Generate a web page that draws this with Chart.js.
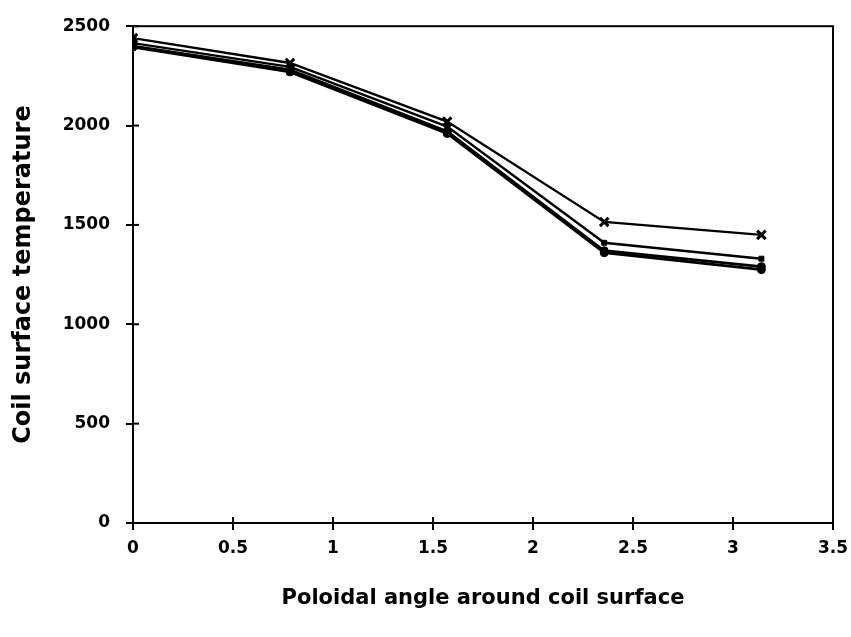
<!DOCTYPE html>
<html>
<head>
<meta charset="utf-8">
<script src="https://cdn.jsdelivr.net/npm/chart.js@4"></script>
<style>
html,body{margin:0;padding:0;background:#fff;}
#wrap{width:851px;height:637px;}
</style>
</head>
<body>
<div id="wrap"><canvas id="c" width="851" height="637"></canvas></div>
<script>
// Poloidal angles (radians)
const angles = [0, 0.785, 1.571, 2.356, 3.142];
// Coil surface temperature series
const seriesA = [2440, 2315, 2020, 1515, 1450];
const seriesB = [2415, 2295, 1995, 1410, 1330];
const seriesC = [2400, 2280, 1970, 1370, 1290];
const seriesD = [2395, 2270, 1960, 1360, 1275];
const xTicks = [0, 0.5, 1, 1.5, 2, 2.5, 3, 3.5];
const yTicks = [0, 500, 1000, 1500, 2000, 2500];
const xTitle = 'Poloidal angle around coil surface';
const yTitle = 'Coil surface temperature';

const toPts = vals => angles.map((a, i) => ({x: a, y: vals[i]}));

const boxPlugin = {
  id: 'box',
  afterDraw(chart) {
    const {ctx, chartArea: a, scales} = chart;
    ctx.save();
    ctx.strokeStyle = '#000';
    ctx.lineWidth = 2;
    ctx.strokeRect(a.left, a.top, a.right - a.left, a.bottom - a.top);
    xTicks.forEach(v => {
      const px = scales.x.getPixelForValue(v);
      ctx.beginPath(); ctx.moveTo(px, a.bottom); ctx.lineTo(px, a.bottom - 6); ctx.stroke();
    });
    yTicks.forEach(v => {
      const py = scales.y.getPixelForValue(v);
      ctx.beginPath(); ctx.moveTo(a.left, py); ctx.lineTo(a.left + 6, py); ctx.stroke();
    });
    ctx.restore();
  }
};

const tickFont = {family: 'DejaVu Sans', weight: 'bold', size: 17};

new Chart(document.getElementById('c'), {
  type: 'line',
  data: {
    datasets: [
      {data: toPts(seriesA), borderColor: '#000', backgroundColor: '#000', borderWidth: 2.4,
       pointStyle: 'crossRot', pointRadius: 6, pointBorderWidth: 3},
      {data: toPts(seriesB), borderColor: '#000', backgroundColor: '#000', borderWidth: 2.4,
       pointStyle: 'rect', pointRadius: 3.5, pointBorderWidth: 1},
      {data: toPts(seriesC), borderColor: '#000', backgroundColor: '#000', borderWidth: 2.8,
       pointStyle: 'circle', pointRadius: 4, pointBorderWidth: 1},
      {data: toPts(seriesD), borderColor: '#000', backgroundColor: '#000', borderWidth: 2.8,
       pointStyle: 'circle', pointRadius: 4, pointBorderWidth: 1}
    ]
  },
  options: {
    responsive: false,
    animation: false,
    layout: {padding: {left: 9, right: 18, top: 25, bottom: 26}},
    plugins: {legend: {display: false}, tooltip: {enabled: false}},
    scales: {
      x: {
        type: 'linear', min: 0, max: 3.5,
        afterBuildTicks: s => { s.ticks = xTicks.map(v => ({value: v})); },
        afterFit: s => { s.height = 88; s.paddingRight = 0; s.paddingLeft = 0; },
        border: {color: '#000', width: 2},
        grid: {drawOnChartArea: false, color: '#000', lineWidth: 2, tickLength: 7},
        ticks: {color: '#000', font: tickFont, padding: 8, maxRotation: 0,
                callback: v => String(v)},
        title: {display: true, text: xTitle, color: '#000',
                font: {family: 'DejaVu Sans', weight: 'bold', size: 21}, padding: {top: 0, bottom: 0}}
      },
      y: {
        min: 0, max: 2500,
        afterBuildTicks: s => { s.ticks = yTicks.map(v => ({value: v})); },
        afterFit: s => { s.width = 124; },
        border: {color: '#000', width: 2},
        grid: {drawOnChartArea: false, color: '#000', lineWidth: 2, tickLength: 7},
        ticks: {color: '#000', font: tickFont, padding: 16, callback: v => String(v)},
        title: {display: true, text: yTitle, color: '#000',
                font: {family: 'DejaVu Sans', weight: 'bold', size: 24}, padding: {top: 0, bottom: 0}}
      }
    }
  },
  plugins: [boxPlugin]
});
</script>
</body>
</html>
